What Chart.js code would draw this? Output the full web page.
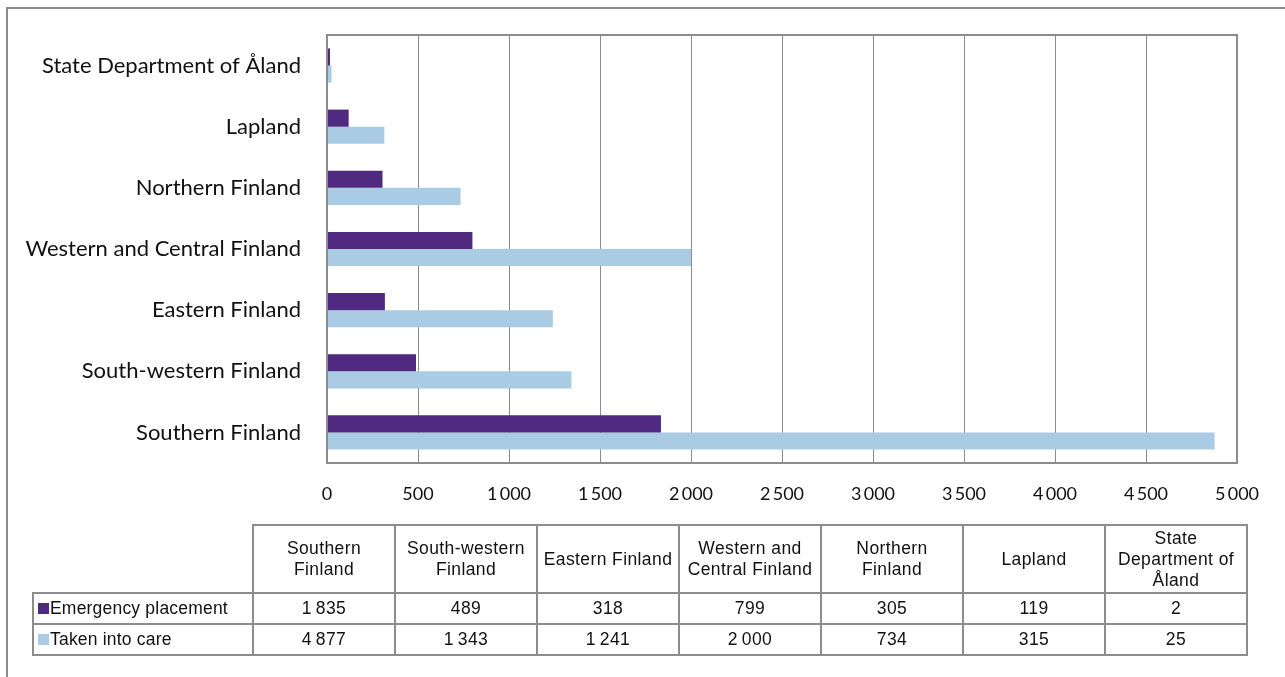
<!DOCTYPE html>
<html>
<head>
  <meta charset="UTF-8">
  <title>Children placed in care by region</title>
  <script src="https://cdn.jsdelivr.net/npm/chart.js"></script>
  <style>
    body {
      margin: 0;
      background: #fff;
      font-family: 'Liberation Sans', Arial, sans-serif;
    }

    #wrap {
      position: relative;
      width: 1285px;
      height: 677px;
      overflow: hidden;
    }

    #frame {
      position: absolute;
      left: 6px;
      top: 7px;
      width: 1290px;
      height: 700px;
      border: 2px solid #8c8c8c;
      box-sizing: border-box;
    }

    canvas {
      position: absolute;
      left: 0;
      top: 0;
    }

    #data-table {
      position: absolute;
      left: 32px;
      top: 524px;
      border-collapse: collapse;
      font-size: 17.5px;
      letter-spacing: 0.4px;
      color: #111;
      table-layout: fixed;
    }

    #data-table td {
      border: 2px solid #8c8c8c;
      text-align: center;
      padding: 0;
      line-height: 21px;
      width: 140px;
    }

    #data-table tr.head td { height: 66px; }
    #data-table tr.row td { height: 29px; }

    #data-table td.blank {
      border: none;
      border-right: 2px solid #8c8c8c;
      border-bottom: 2px solid #8c8c8c;
      width: 219px;
    }

    #data-table td.series {
      text-align: left;
      padding-left: 4px;
      white-space: nowrap;
      letter-spacing: 0.2px;
    }

    .key {
      display: inline-block;
      width: 11px;
      height: 11px;
      margin-right: 1px;
    }
  </style>
</head>
<body>
  <div id="wrap">
    <div id="frame"></div>
    <canvas id="chart" width="1285" height="677"></canvas>
    <table id="data-table"></table>
  </div>

  <script>
    const regions = ['Southern Finland', 'South-western Finland', 'Eastern Finland',
      'Western and Central Finland', 'Northern Finland', 'Lapland', 'State Department of Åland'];
    const tableHeads = [['Southern', 'Finland'], ['South-western', 'Finland'], ['Eastern Finland'],
      ['Western and', 'Central Finland'], ['Northern', 'Finland'], ['Lapland'], ['State', 'Department of', 'Åland']];
    const emergency = [1835, 489, 318, 799, 305, 119, 2];
    const takenIntoCare = [4877, 1343, 1241, 2000, 734, 315, 25];
    const seriesNames = ['Emergency placement', 'Taken into care'];
    const seriesColors = ['#4f2a80', '#a9cce4'];
    const xMax = 5000;
    const xStep = 500;

    function fmt(n) {
      return n >= 1000 ? Math.floor(n / 1000) + '\u2009' + String(n % 1000).padStart(3, '0') : String(n);
    }

    // frame around the plot area
    const plotFrame = {
      id: 'plotFrame',
      afterDraw(chart) {
        const a = chart.chartArea, ctx = chart.ctx;
        ctx.save();
        ctx.strokeStyle = '#8c8c8c';
        ctx.lineWidth = 2;
        ctx.strokeRect(a.left, a.top, a.right - a.left, a.bottom - a.top);
        ctx.restore();
      }
    };

    new Chart(document.getElementById('chart'), {
      type: 'bar',
      data: {
        labels: regions,
        datasets: [
          { label: seriesNames[0], data: emergency, backgroundColor: seriesColors[0], minBarLength: 3 },
          { label: seriesNames[1], data: takenIntoCare, backgroundColor: seriesColors[1] }
        ]
      },
      options: {
        indexAxis: 'y',
        responsive: false,
        animation: false,
        categoryPercentage: 0.56,
        barPercentage: 1,
        layout: { padding: { top: 35, right: 48, left: 0, bottom: 0 } },
        plugins: {
          legend: { display: false },
          tooltip: { enabled: false }
        },
        scales: {
          x: {
            min: 0,
            max: xMax,
            ticks: {
              stepSize: xStep,
              padding: 20,
              color: '#111',
              font: { family: 'Lato', size: 18 },
              callback: v => fmt(v)
            },
            grid: { color: '#8c8c8c', lineWidth: 1, drawTicks: false },
            border: { color: '#8c8c8c', width: 2 },
            afterFit: s => { s.height = 214; s.paddingLeft = 0; s.paddingRight = 0; }
          },
          y: {
            reverse: true,
            ticks: {
              padding: 26,
              color: '#111',
              font: { family: 'Lato', size: 22 }
            },
            grid: { display: false, drawTicks: false },
            border: { color: '#8c8c8c', width: 2 },
            afterFit: s => { s.width = 327; s.paddingTop = 0; s.paddingBottom = 0; }
          }
        }
      },
      plugins: [plotFrame]
    });

    // data table under the chart
    const table = document.getElementById('data-table');
    let html = '<tr class="head"><td class="blank"></td>';
    tableHeads.forEach(h => { html += '<td>' + h.join('<br>') + '</td>'; });
    html += '</tr>';
    [emergency, takenIntoCare].forEach((vals, i) => {
      html += '<tr class="row"><td class="series"><span class="key" style="background:' +
        seriesColors[i] + '"></span>' + seriesNames[i] + '</td>';
      vals.forEach(v => { html += '<td>' + fmt(v) + '</td>'; });
      html += '</tr>';
    });
    table.innerHTML = html;
  </script>
</body>
</html>
